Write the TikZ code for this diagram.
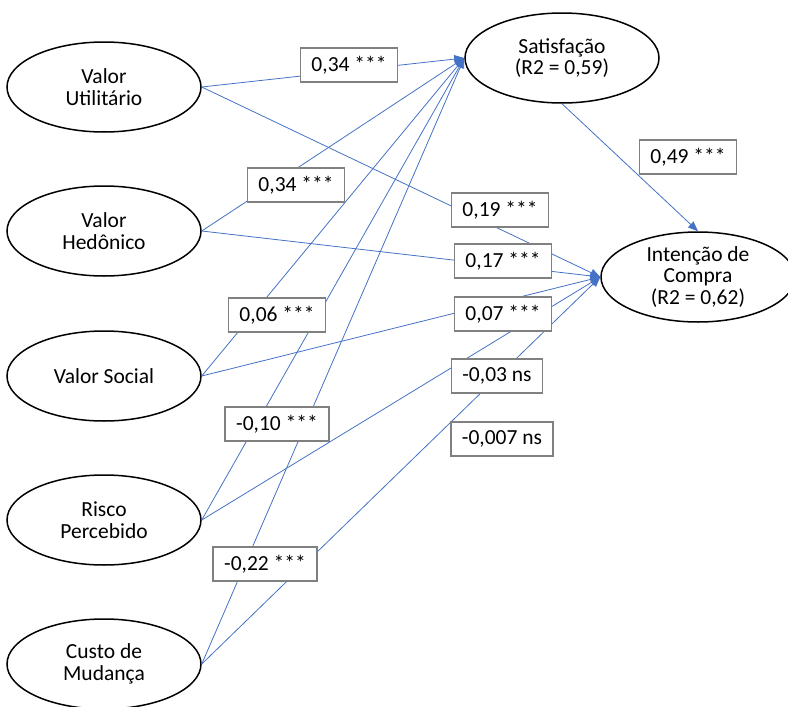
\documentclass[tikz,border=0pt]{standalone}
\usepackage{fontspec}
\setmainfont{Carlito}
\usetikzlibrary{arrows.meta, shapes.geometric}
\definecolor{pathblue}{HTML}{4472C4}
\definecolor{boxgray}{HTML}{808080}
\tikzset{
  font=\fontsize{21.5}{21.7}\selectfont,
  construct/.style={
    ellipse, draw=black, fill=white, line width=1.5pt,
    minimum width=194pt, minimum height=90pt, inner sep=0pt, align=center
  },
  coef/.style={
    draw=boxgray, fill=white, line width=1.5pt,
    minimum height=34pt, inner xsep=11pt, inner ysep=0pt
  },
  path/.style={draw=pathblue, line width=0.8pt, -{Triangle[length=10pt,width=8pt]}}
}
\begin{document}
\begin{tikzpicture}[x=1pt,y=-1pt]
  \useasboundingbox (0,0) rectangle (788,707);
  % constructs
  \node[construct] (vu) at (104,87) {Valor\\Utilitário};
  \node[construct] (vh) at (104,231) {Valor\\Hedônico};
  \node[construct] (vs) at (104,376) {Valor Social};
  \node[construct] (rp) at (104,520) {Risco\\Percebido};
  \node[construct] (cm) at (104,664) {Custo de\\Mudança};
  \node[construct] (sat) at (562,58) {Satisfação\\(R2 = 0,59)};
  \node[construct] (int) at (698,277) {Intenção de\\Compra\\(R2 = 0,62)};
  % paths
  \foreach \s in {vu,vh,vs,rp,cm} {
    \draw[path] (\s.east) -- (sat.west);
    \draw[path] (\s.east) -- (int.west);
  }
  \draw[path] (sat.south) -- (int.north);
  % coefficients
  \node[coef] (vusat) at (349,65) {0,34 ***};
  \node[coef] (vhsat) at (296,185) {0,34 ***};
  \node[coef] (vssat) at (277,315) {0,06 ***};
  \node[coef] (rpsat) at (277,424) {-0,10 ***};
  \node[coef] (cmsat) at (265,564) {-0,22 ***};
  \node[coef] (vuint) at (500,210) {0,19 ***};
  \node[coef] (vhint) at (503,261) {0,17 ***};
  \node[coef] (vsint) at (503,314) {0,07 ***};
  \node[coef] (rpint) at (497,376) {-0,03 ns};
  \node[coef] (cmint) at (502,439) {-0,007 ns};
  \node[coef] (satint) at (688,157) {0,49 ***};
\end{tikzpicture}
\end{document}
